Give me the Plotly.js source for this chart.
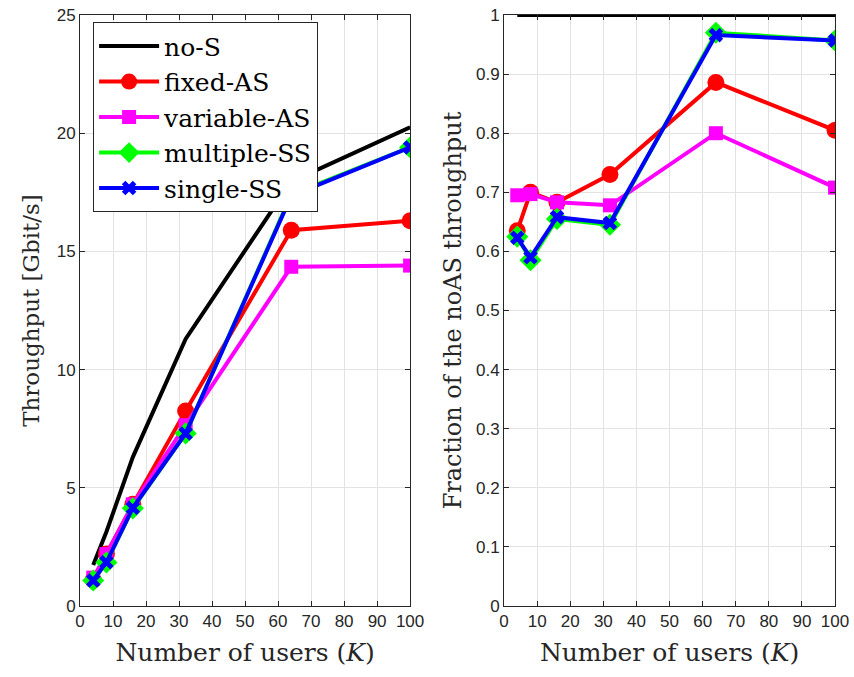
<!DOCTYPE html>
<html><head><meta charset="utf-8">
<script src="https://cdn.plot.ly/plotly-3.0.1.min.js"></script>
<style>html,body{margin:0;padding:0;background:#fff}</style>
</head><body><div id="chart" style="width:854px;height:677px"></div>
<script>
var users = [4, 8, 16, 32, 64, 100];
var names = ['no-S', 'fixed-AS', 'variable-AS', 'multiple-SS', 'single-SS'];
// Throughput [Gbit/s]
var noS_thr = [1.73, 3.14, 6.3, 11.3, 17.95, 20.25];
var fixedAS_thr = [1.1, 2.2, 4.3, 8.25, 15.9, 16.3];
var variableAS_thr = [1.2, 2.2, 4.3, 7.65, 14.35, 14.4];
var multipleSS_thr = [1.08, 1.84, 4.13, 7.3, 17.4, 19.4];
var singleSS_thr = [1.08, 1.85, 4.15, 7.3, 17.35, 19.4];
// Fraction of the noAS throughput
var noS_frac = [1, 1, 1, 1, 1, 1];
var fixedAS_frac = [0.635, 0.70, 0.683, 0.73, 0.886, 0.805];
var variableAS_frac = [0.695, 0.697, 0.683, 0.678, 0.80, 0.708];
var multipleSS_frac = [0.625, 0.585, 0.655, 0.645, 0.97, 0.957];
var singleSS_frac = [0.623, 0.59, 0.658, 0.648, 0.966, 0.957];

var colors = ['#000000', '#ff0000', '#ff00ff', '#00ff00', '#0000ff'];
var markers = [null, {symbol:'circle', size:17}, {symbol:'square', size:14}, {symbol:'diamond', size:17}, {symbol:'x-thin', size:11}];
var thr = [noS_thr, fixedAS_thr, variableAS_thr, multipleSS_thr, singleSS_thr];
var frac = [noS_frac, fixedAS_frac, variableAS_frac, multipleSS_frac, singleSS_frac];

function mk(i, y, xa, ya, show) {
  var t = {x: users, y: y, xaxis: xa, yaxis: ya, name: names[i], showlegend: show,
    mode: markers[i] ? 'lines+markers' : 'lines', line: {color: colors[i], width: 4}};
  if (markers[i]) {
    t.marker = {symbol: markers[i].symbol, size: markers[i].size, color: colors[i]};
    if (markers[i].symbol === 'x-thin') t.marker.line = {color: colors[i], width: 5};
  }
  return t;
}
var data = [];
for (var i = 0; i < 5; i++) data.push(mk(i, thr[i], 'x', 'y', true));
for (var i = 0; i < 5; i++) data.push(mk(i, frac[i], 'x2', 'y2', false));

var serif = '"DejaVu Serif", "Liberation Serif", serif';
var sans = '"Liberation Sans", Arial, sans-serif';
function ax(extra) {
  var a = {showgrid: true, gridcolor: '#e3e3e3', gridwidth: 1, zeroline: false,
    showline: true, linecolor: '#262626', linewidth: 1, mirror: 'ticks', ticks: 'inside',
    ticklen: 5, tickcolor: '#262626', tickfont: {family: sans, size: 17, color: '#262626'},
    automargin: false};
  for (var k in extra) a[k] = extra[k];
  return a;
}
var xtitle = {text: 'Number of users (<i>K</i>)', font: {family: serif, size: 25, color: '#262626'}, standoff: 13};
var layout = {
  width: 854, height: 677, margin: {l: 0, r: 0, t: 0, b: 0},
  paper_bgcolor: '#fff', plot_bgcolor: '#fff',
  xaxis: ax({domain: [0.0937, 0.4802], range: [0, 100], dtick: 10, anchor: 'y', title: xtitle}),
  yaxis: ax({domain: [0.1049, 0.9778], range: [0, 25], dtick: 5, anchor: 'x',
    title: {text: 'Throughput [Gbit/s]', font: {family: serif, size: 23, color: '#262626'}, standoff: 10}}),
  xaxis2: ax({domain: [0.5902, 0.9778], range: [0, 100], dtick: 10, anchor: 'y2', title: xtitle}),
  yaxis2: ax({domain: [0.1049, 0.9778], range: [0, 1], anchor: 'x2',
    tickvals: [0,0.1,0.2,0.3,0.4,0.5,0.6,0.7,0.8,0.9,1],
    ticktext: ['0','0.1','0.2','0.3','0.4','0.5','0.6','0.7','0.8','0.9','1'],
    title: {text: 'Fraction of the noAS throughput', font: {family: serif, size: 24, color: '#262626'}, standoff: 7}}),
  legend: {x: 0.109, y: 0.967, xanchor: 'left', yanchor: 'top', bgcolor: '#fff',
    bordercolor: '#262626', borderwidth: 1, font: {family: serif, size: 25, color: '#000'},
    tracegroupgap: 0, itemwidth: 60}
};
Plotly.newPlot('chart', data, layout, {staticPlot: true});
</script></body></html>
